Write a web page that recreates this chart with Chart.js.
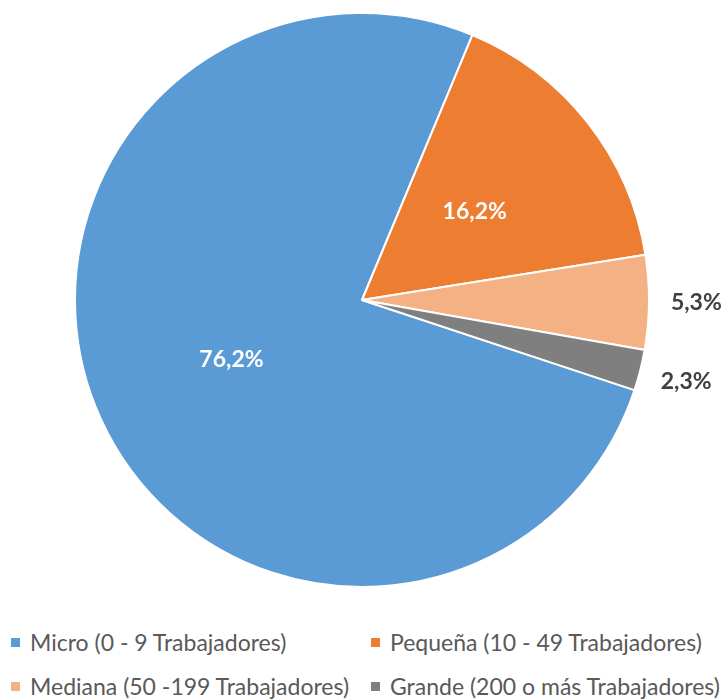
<!DOCTYPE html>
<html>
<head>
<meta charset="utf-8">
<script src="https://cdn.jsdelivr.net/npm/chart.js@4.4.0/dist/chart.umd.min.js"></script>
<style>
  body { margin: 0; background: #fff; }
  #wrap { position: relative; width: 726px; height: 699px; overflow: hidden; }
  #chart { position: absolute; left: 0; top: 0; }
  #legend { position: absolute; left: 0; top: 629px; width: 726px; font-family: Lato, sans-serif; font-size: 23px; color: #595959; }
  .item { position: absolute; display: flex; align-items: center; white-space: nowrap; height: 26px; }
  .box { width: 9px; height: 9px; margin-right: 10px; }
</style>
</head>
<body>
<div id="wrap">
  <canvas id="chart" width="726" height="610"></canvas>
  <div id="legend"></div>
</div>
<script>
// Data
const categories = ['Micro (0 - 9 Trabajadores)', 'Pequeña (10 - 49 Trabajadores)', 'Mediana (50 -199 Trabajadores)', 'Grande (200 o más Trabajadores)'];
const shares = [76.2, 16.2, 5.3, 2.3];
const colors = ['#5B9BD5', '#ED7D31', '#F4B183', '#7F7F7F'];

// labels: inside the slice (white) or just outside (dark)
const labelOutside = [false, false, true, true];

const sliceLabels = {
    id: 'sliceLabels',
    afterDraw(chart) {
        const ctx = chart.ctx;
        const meta = chart.getDatasetMeta(0);
        ctx.save();
        ctx.font = 'bold 23px Lato, sans-serif';
        ctx.textAlign = 'center';
        ctx.textBaseline = 'middle';
        meta.data.forEach((arc, i) => {
            const p = arc.getProps(['x', 'y', 'startAngle', 'endAngle', 'outerRadius']);
            const mid = (p.startAngle + p.endAngle) / 2;
            const f = labelOutside[i] ? 1.165 : 0.5;
            const x = p.x + Math.cos(mid) * p.outerRadius * f;
            const y = p.y + Math.sin(mid) * p.outerRadius * f;
            ctx.fillStyle = labelOutside[i] ? '#404040' : '#ffffff';
            ctx.fillText(shares[i].toFixed(1).replace('.', ',') + '%', x, y);
        });
        ctx.restore();
    }
};

new Chart(document.getElementById('chart'), {
    type: 'pie',
    data: {
        labels: categories,
        datasets: [{
            data: shares,
            backgroundColor: colors,
            borderColor: '#ffffff',
            borderWidth: 2
        }]
    },
    options: {
        responsive: false,
        animation: false,
        rotation: 108.3,
        layout: { padding: { top: 12, bottom: 22, left: 0, right: 2 } },
        plugins: {
            legend: { display: false },
            tooltip: { enabled: false }
        }
    },
    plugins: [sliceLabels]
});

// legend, two columns
const legendPos = [[11, 0], [371, 0], [11, 44], [371, 44]];
const legend = document.getElementById('legend');
categories.forEach((name, i) => {
    const item = document.createElement('div');
    item.className = 'item';
    item.style.left = legendPos[i][0] + 'px';
    item.style.top = legendPos[i][1] + 'px';
    item.innerHTML = '<span class="box" style="background:' + colors[i] + '"></span><span>' + name + '</span>';
    legend.appendChild(item);
});
</script>
</body>
</html>
